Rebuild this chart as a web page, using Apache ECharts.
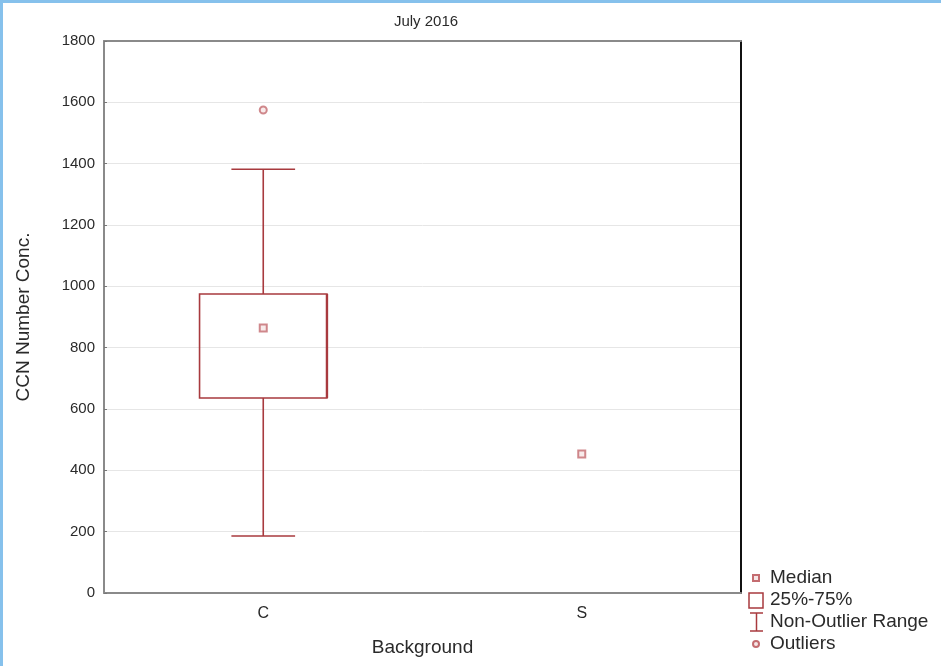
<!DOCTYPE html>
<html>
<head>
<meta charset="utf-8">
<script src="https://cdn.jsdelivr.net/npm/echarts@6/dist/echarts.min.js"></script>
<style>
html,body{margin:0;padding:0;background:#fff;}
#chart{width:941px;height:666px;}
.bt{position:absolute;left:0;top:0;width:941px;height:3px;background:#86c1ec;}
.bl{position:absolute;left:0;top:0;width:3px;height:666px;background:#86c1ec;}
</style>
</head>
<body>
<div id="chart"></div>
<div class="bt"></div>
<div class="bl"></div>
<script>
const categories = ['C', 'S'];
// [min, Q1, Q3, max] of the C box (S has no spread)
const boxC = [186, 636, 975, 1382];
const medians = [864, 453];
const outliers = [[0, 1575]];
const yTicks = [0, 200, 400, 600, 800, 1000, 1200, 1400, 1600, 1800];

const lineColor = '#a83a3e';
const markColor = '#c46c70';
const font = 'Liberation Sans, Arial, sans-serif';
const txt = '#2a2a2a';

const boxData = [[0].concat(boxC)];

const chart = echarts.init(document.getElementById('chart'), null, {renderer: 'canvas'});
chart.setOption({
  animation: false,
  title: {
    text: 'July 2016', left: 421, top: 9, textAlign: 'center',
    textStyle: {fontFamily: font, fontSize: 15, fontWeight: 'normal', color: txt}
  },
  grid: {left: 104, right: 200, top: 41, bottom: 73},
  xAxis: [{
    type: 'category', data: categories, position: 'bottom',
    name: 'Background', nameLocation: 'middle', nameGap: 45,
    nameTextStyle: {fontFamily: font, fontSize: 19, color: txt},
    axisLine: {onZero: false, lineStyle: {color: '#8a8a8a', width: 2}},
    axisTick: {inside: true, alignWithLabel: true, length: 3, lineStyle: {color: '#333'}},
    axisLabel: {fontFamily: font, fontSize: 16, color: txt, margin: 13},
    splitLine: {show: false}
  }, {
    type: 'category', data: categories, position: 'top',
    axisLine: {onZero: false, lineStyle: {color: '#8a8a8a', width: 2}},
    axisTick: {inside: true, alignWithLabel: true, length: 4, lineStyle: {color: '#555'}},
    axisLabel: {show: false}
  }],
  yAxis: [{
    type: 'value', min: 0, max: 1800, interval: 200, position: 'left',
    name: 'CCN Number Conc.', nameLocation: 'middle', nameGap: 71,
    nameTextStyle: {fontFamily: font, fontSize: 19, color: txt},
    axisLine: {show: true, onZero: false, lineStyle: {color: '#8a8a8a', width: 2}},
    axisTick: {show: true, inside: true, length: 3, lineStyle: {color: '#777'}},
    axisLabel: {fontFamily: font, fontSize: 15, color: txt, margin: 9,
      formatter: v => yTicks.includes(v) ? String(v) : ''},
    splitLine: {show: true, lineStyle: {color: '#e6e6e6', width: 1}}
  }, {
    type: 'value', min: 0, max: 1800, interval: 200, position: 'right',
    axisLine: {show: true, onZero: false, lineStyle: {color: '#111', width: 2}},
    axisTick: {show: false}, axisLabel: {show: false}, splitLine: {show: false}
  }],
  series: [{
    type: 'custom',
    data: boxData,
    encode: {x: 0, y: [1, 2, 3, 4]},
    renderItem: function (params, api) {
      const c = api.value(0);
      const lo = api.coord([c, api.value(1)]);
      const q1 = api.coord([c, api.value(2)]);
      const q3 = api.coord([c, api.value(3)]);
      const hi = api.coord([c, api.value(4)]);
      const band = api.size([1, 0])[0];
      const bw = band * 0.4, cw = band * 0.2;
      const x = lo[0];
      const st = {stroke: lineColor, lineWidth: 1.6, fill: null};
      return {type: 'group', children: [
        {type: 'rect', shape: {x: x - bw / 2, y: q3[1], width: bw, height: q1[1] - q3[1]}, style: {stroke: lineColor, lineWidth: 1.6, fill: 'rgba(255,255,255,0)'}},
        {type: 'line', shape: {x1: x + bw / 2, y1: q3[1], x2: x + bw / 2, y2: q1[1]}, style: {stroke: lineColor, lineWidth: 2.4}},
        {type: 'line', shape: {x1: x, y1: q3[1], x2: x, y2: hi[1]}, style: st},
        {type: 'line', shape: {x1: x, y1: q1[1], x2: x, y2: lo[1]}, style: st},
        {type: 'line', shape: {x1: x - cw / 2, y1: hi[1], x2: x + cw / 2, y2: hi[1]}, style: st},
        {type: 'line', shape: {x1: x - cw / 2, y1: lo[1], x2: x + cw / 2, y2: lo[1]}, style: st}
      ]};
    },
    z: 2
  }, {
    type: 'scatter', name: 'Median',
    data: medians.map((v, i) => [i, v]),
    symbol: 'rect', symbolSize: 7,
    itemStyle: {color: '#f6e6e6', borderColor: markColor, borderWidth: 2},
    z: 3
  }, {
    type: 'scatter', name: 'Outliers',
    data: outliers,
    symbol: 'circle', symbolSize: 7,
    itemStyle: {color: '#f6e6e6', borderColor: markColor, borderWidth: 2},
    z: 3
  }],
  graphic: [
    {type: 'rect', shape: {x: 753, y: 575, width: 6, height: 6}, style: {fill: '#f6e6e6', stroke: markColor, lineWidth: 2}},
    {type: 'text', x: 770, y: 578, style: {text: 'Median', fontFamily: font, fontSize: 19, fill: txt, verticalAlign: 'middle'}},
    {type: 'rect', shape: {x: 749, y: 593, width: 14, height: 15}, style: {fill: '#fff', stroke: lineColor, lineWidth: 1.5}},
    {type: 'text', x: 770, y: 600, style: {text: '25%-75%', fontFamily: font, fontSize: 19, fill: txt, verticalAlign: 'middle'}},
    {type: 'line', shape: {x1: 750, y1: 613, x2: 763, y2: 613}, style: {stroke: lineColor, lineWidth: 1.5}},
    {type: 'line', shape: {x1: 756.5, y1: 613, x2: 756.5, y2: 631}, style: {stroke: lineColor, lineWidth: 1.5}},
    {type: 'line', shape: {x1: 750, y1: 631, x2: 763, y2: 631}, style: {stroke: lineColor, lineWidth: 1.5}},
    {type: 'text', x: 770, y: 622, style: {text: 'Non-Outlier Range', fontFamily: font, fontSize: 19, fill: txt, verticalAlign: 'middle'}},
    {type: 'circle', shape: {cx: 756, cy: 644, r: 3}, style: {fill: '#f6e6e6', stroke: markColor, lineWidth: 2}},
    {type: 'text', x: 770, y: 644, style: {text: 'Outliers', fontFamily: font, fontSize: 19, fill: txt, verticalAlign: 'middle'}}
  ]
});
</script>
</body>
</html>
